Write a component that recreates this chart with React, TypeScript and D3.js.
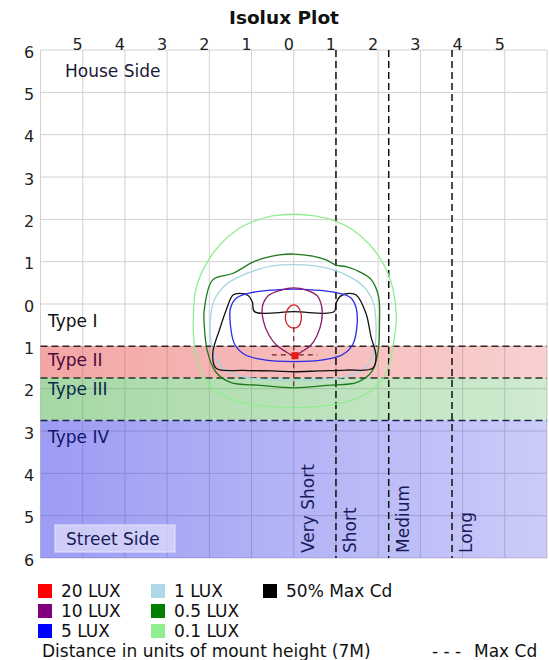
import React, { useEffect } from "react";
import * as d3 from "d3";

const W = 549;
const H = 660;

// axis ticks, in units of mount height
const xTicks = [-5, -4, -3, -2, -1, 0, 1, 2, 3, 4, 5];
const yTicks = [6, 5, 4, 3, 2, 1, 0, -1, -2, -3, -4, -5, -6];

// lateral classification bands on the street side
const bandNames = ["Type II", "Type III", "Type IV"];
const bandFrom = [1, 1.75, 2.75];
const bandTo = [1.75, 2.75, 6];
const bandColors = ["#e63c3c", "#3caa3c", "#2828e6"];

// longitudinal classification
const distanceNames = ["Very Short", "Short", "Medium", "Long"];
const distanceLines = [1, 2.25, 3.75];

// isolux contours, [x, y] in mount heights (y < 0 = street side)
const lux01: [number, number][] = [
  [0, 2.12], [0.5, 2.08], [1.0, 1.95], [1.4, 1.75], [1.8, 1.4], [2.15, 0.9], [2.35, 0.35],
  [2.43, -0.3], [2.35, -1.0], [2.2, -1.6], [1.9, -2.0], [1.3, -2.3], [0.6, -2.42], [0, -2.45],
  [-0.6, -2.42], [-1.3, -2.3], [-1.9, -2.0], [-2.2, -1.6], [-2.35, -1.0], [-2.38, -0.3],
  [-2.32, 0.35], [-2.1, 0.9], [-1.75, 1.4], [-1.35, 1.75], [-0.95, 1.95], [-0.5, 2.08],
];
const lux05: [number, number][] = [
  [0, 1.18], [0.45, 1.13], [0.77, 1.04], [1.0, 0.92], [1.24, 0.88], [1.56, 0.76], [1.84, 0.57],
  [2.01, 0.17], [2.03, -0.5], [2.0, -1.1], [1.85, -1.6], [1.5, -1.85], [0.8, -1.92], [0, -1.98],
  [-0.8, -1.92], [-1.5, -1.85], [-1.85, -1.6], [-2.05, -1.1], [-2.12, -0.5], [-2.12, -0.14],
  [-1.92, 0.57], [-1.45, 0.72], [-0.97, 0.99], [-0.73, 1.08], [-0.34, 1.16],
];
const lux1: [number, number][] = [
  [0, 0.93], [0.5, 0.9], [0.9, 0.82], [1.3, 0.66], [1.65, 0.42], [1.88, 0.05], [1.95, -0.5],
  [1.9, -1.1], [1.7, -1.5], [1.2, -1.72], [0, -1.8], [-1.2, -1.72], [-1.7, -1.5], [-1.92, -1.1],
  [-1.98, -0.5], [-1.9, 0.05], [-1.65, 0.42], [-1.3, 0.64], [-0.9, 0.8], [-0.5, 0.9],
];
const maxCd50: [number, number][] = [
  [-0.93, -0.18], [-0.98, 0.05], [-1.08, 0.2], [-1.29, 0.25], [-1.44, 0.21], [-1.6, -0.14],
  [-1.76, -0.61], [-1.92, -1.17], [-1.84, -1.52], [-1.2, -1.57], [-0.5, -1.58], [0, -1.6],
  [0.6, -1.58], [1.24, -1.56], [1.87, -1.52], [1.95, -1.24], [1.83, -0.77], [1.71, -0.22],
  [1.48, 0.21], [1.32, 0.25], [1.1, 0.18], [1.0, 0.02], [0.96, -0.18], [0, -0.18],
];
const lux5: [number, number][] = [
  [0, 0.35], [0.5, 0.33], [1.0, 0.27], [1.35, 0.15], [1.48, -0.1], [1.5, -0.5], [1.4, -0.95],
  [1.15, -1.2], [0.7, -1.32], [0, -1.36], [-0.7, -1.32], [-1.15, -1.2], [-1.4, -0.95],
  [-1.5, -0.5], [-1.5, -0.1], [-1.35, 0.15], [-1.0, 0.27], [-0.5, 0.33],
];
const lux10: [number, number][] = [
  [0, 0.38], [0.3, 0.33], [0.55, 0.2], [0.66, -0.05], [0.66, -0.4], [0.55, -0.75], [0.4, -0.98],
  [0.2, -1.12], [0.05, -1.2], [-0.05, -1.2], [-0.2, -1.12], [-0.4, -0.98], [-0.58, -0.75],
  [-0.72, -0.4], [-0.74, -0.05], [-0.6, 0.2], [-0.3, 0.33],
];
const lux20: [number, number][] = [
  [0, -0.02], [0.08, -0.05], [0.16, -0.18], [0.18, -0.35], [0.12, -0.52], [0, -0.57],
  [-0.12, -0.52], [-0.2, -0.35], [-0.17, -0.18], [-0.08, -0.05],
];

const maxCdPoint: [number, number] = [0.03, -1.22];
const maxCdSpanX = [-0.52, 0.56];
const maxCdSpanY = [-0.55, -1.95];

const legendNames = ["20 LUX", "10 LUX", "5 LUX", "1 LUX", "0.5 LUX", "0.1 LUX", "50% Max Cd"];
const legendColors = ["#ff0000", "#800080", "#0000ff", "#add8e6", "#008000", "#90ee90", "#000000"];

const contours = [
  { data: lux01, color: "#90ee90" },
  { data: lux05, color: "#1a7a1a" },
  { data: lux1, color: "#a8d4e4" },
  { data: maxCd50, color: "#111111" },
  { data: lux5, color: "#2a2ae8" },
  { data: lux10, color: "#8a1a6a" },
  { data: lux20, color: "#c8282a" },
];

const FONT = "'DejaVu Sans', Verdana, sans-serif";

export default function App() {
  useEffect(() => {
    document.body.style.margin = "0";
  }, []);

  const x = d3.scaleLinear().domain([-6, 6]).range([40.5, 547]);
  const y = d3.scaleLinear().domain([6, -6]).range([50, 558]);

  const line = d3
    .line<[number, number]>()
    .x((d) => x(d[0]))
    .y((d) => y(d[1]))
    .curve(d3.curveCatmullRomClosed.alpha(0.5));

  const gridX = d3.range(-6, 7);
  const gridY = d3.range(-6, 7);
  // baseline offsets of the type labels below each band's top edge
  const typeOffsets = [20, 17, 23];

  return (
    <svg width={W} height={H} style={{ display: "block", background: "#fff" }} fontFamily={FONT}>
      <defs>
        {bandColors.map((c, i) => (
          <linearGradient key={i} id={`band${i}`} x1="0" x2="1" y1="0" y2="0">
            <stop offset="0" stopColor={c} stopOpacity={0.46} />
            <stop offset="1" stopColor={c} stopOpacity={0.24} />
          </linearGradient>
        ))}
      </defs>

      <text x={284} y={17} textAnchor="middle" dominantBaseline="central" fontWeight="bold" fontSize={18.5} fill="#111">
        Isolux Plot
      </text>

      {/* grid */}
      {gridX.map((v) => (
        <line key={`gx${v}`} x1={x(v)} x2={x(v)} y1={y(6)} y2={y(-6)} stroke="#d2d2d2" strokeWidth={1} />
      ))}
      {gridY.map((v) => (
        <line key={`gy${v}`} x1={x(-6)} x2={x(6)} y1={y(v)} y2={y(v)} stroke="#d2d2d2" strokeWidth={1} />
      ))}

      {/* bands */}
      {bandNames.map((n, i) => (
        <rect
          key={n}
          x={x(-6)}
          y={y(-bandFrom[i])}
          width={x(6) - x(-6)}
          height={y(-bandTo[i]) - y(-bandFrom[i])}
          fill={`url(#band${i})`}
        />
      ))}
      <rect x={55} y={525} width={120} height={27} fill="#dcdcfa" fillOpacity={0.75} stroke="#e6e6ff" />

      {bandFrom.map((v, i) => (
        <line
          key={`bl${i}`}
          x1={x(-6)}
          x2={x(6)}
          y1={y(-v)}
          y2={y(-v)}
          stroke={["#3a2020", "#203a20", "#20205a"][i]}
          strokeWidth={1.5}
          strokeDasharray="7,4"
        />
      ))}
      {distanceLines.map((v) => (
        <line key={`dl${v}`} x1={x(v)} x2={x(v)} y1={y(6)} y2={y(-6)} stroke="#111" strokeWidth={1.5} strokeDasharray="7,4" />
      ))}

      {/* contours */}
      {contours.map((c, i) => (
        <path key={i} d={line(c.data) || ""} fill="none" stroke={c.color} strokeWidth={1.3} />
      ))}

      {/* max candela */}
      <line
        x1={x(maxCdSpanX[0])}
        x2={x(maxCdSpanX[1])}
        y1={y(maxCdPoint[1] + 0.02)}
        y2={y(maxCdPoint[1] + 0.02)}
        stroke="#7a1a1a"
        strokeWidth={1.2}
        strokeDasharray="5,4"
      />
      <line
        x1={x(0)}
        x2={x(0)}
        y1={y(maxCdSpanY[0])}
        y2={y(maxCdSpanY[1])}
        stroke="#7a1a1a"
        strokeWidth={1.2}
        strokeDasharray="5,4"
      />
      <rect x={x(maxCdPoint[0]) - 3.5} y={y(maxCdPoint[1]) - 3.5} width={7} height={7} fill="#e81818" />

      {/* axis labels */}
      {xTicks.map((v) => (
        <text key={`xt${v}`} x={x(v) - 5} y={44} textAnchor="middle" dominantBaseline="central" fontSize={16} fill="#222">
          {Math.abs(v)}
        </text>
      ))}
      {yTicks.map((v) => (
        <text key={`yt${v}`} x={29} y={y(v) + 2} textAnchor="middle" dominantBaseline="central" fontSize={16} fill="#222">
          {Math.abs(v)}
        </text>
      ))}

      <text x={65} y={77} fontSize={17} fill="#1a1a3a">House Side</text>
      <text x={48} y={y(0) + 23} fontSize={17} fill="#111">Type I</text>
      {bandNames.map((n, i) => (
        <text key={`tn${n}`} x={48} y={y(-bandFrom[i]) + typeOffsets[i]} fontSize={17} fill={["#4a0a3a", "#0a2a4a", "#14146a"][i]}>
          {n}
        </text>
      ))}
      <text x={66} y={545} fontSize={17} fill="#1a1a5a">Street Side</text>

      {distanceNames.map((n, i) => {
        const cx = i === 0 ? x(distanceLines[0]) - 28 : x(distanceLines[i - 1]) + 14;
        return (
          <text
            key={n}
            transform={`translate(${cx},553) rotate(-90)`}
            dy="0.35em"
            fontSize={17}
            fill="#1a1a5a"
          >
            {n}
          </text>
        );
      })}

      {/* legend */}
      {legendNames.map((n, i) => {
        const col = Math.floor(i / 3);
        const row = i % 3;
        const lx = [38, 151, 263][col];
        const ly = 591 + row * 20;
        return (
          <g key={n}>
            <rect x={lx} y={ly - 7} width={14} height={14} fill={legendColors[i]} />
            <text x={lx + 23} y={ly} dominantBaseline="central" fontSize={17} fill="#111">
              {n}
            </text>
          </g>
        );
      })}
      <text x={42} y={651} dominantBaseline="central" fontSize={17} fill="#111">
        Distance in units of mount height (7M)
      </text>
      <text x={432} y={651} dominantBaseline="central" fontSize={17} fill="#111">
        - - -
      </text>
      <text x={474} y={651} dominantBaseline="central" fontSize={17} fill="#111">
        Max Cd
      </text>
    </svg>
  );
}
